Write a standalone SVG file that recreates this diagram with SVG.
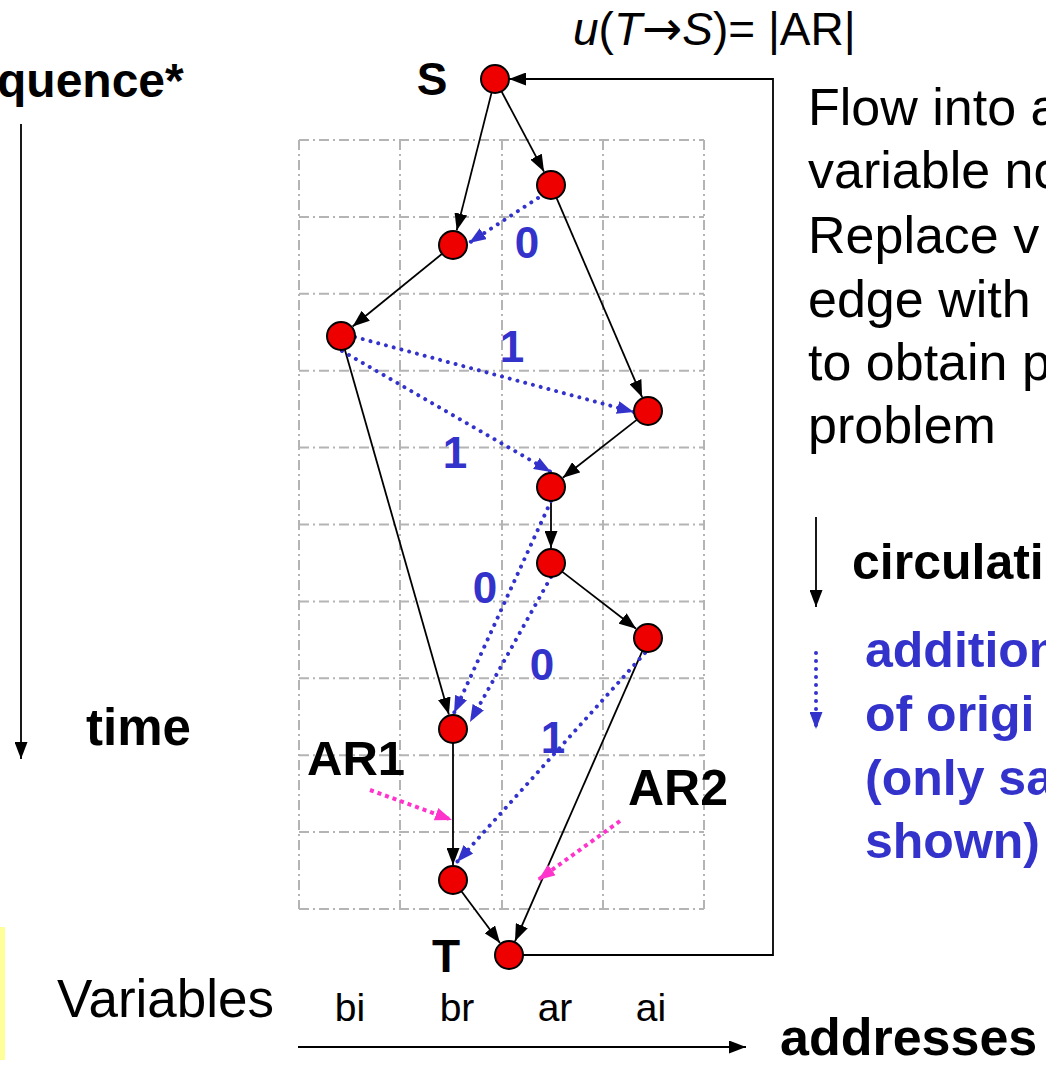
<svg xmlns="http://www.w3.org/2000/svg" width="1046" height="1066" viewBox="0 0 1046 1066">
<defs>
<style>
text{font-family:"Liberation Sans",Arial,sans-serif}
.b{font-weight:bold}
.blue{fill:#3333CC}
.grid line{stroke:#B4B4B4;stroke-width:2;stroke-dasharray:10 4 2 4}
.edge{stroke:#000;stroke-width:1.8;fill:none;marker-end:url(#ah)}
.dot{stroke:#3333CC;stroke-width:4;fill:none;stroke-linecap:round;stroke-dasharray:0.01 8;marker-end:url(#bh)}
.pink{stroke:#FF33CC;stroke-width:4;fill:none;stroke-dasharray:4 4;marker-end:url(#ph)}
.node{fill:#EE0000;stroke:#000;stroke-width:2}
</style>
<marker id="ah" viewBox="0 0 17 13" refX="17" refY="6.5" markerWidth="17" markerHeight="13" markerUnits="userSpaceOnUse" orient="auto"><path d="M0,0 L17,6.5 L0,13 z" fill="#000"/></marker>
<marker id="bh" viewBox="0 0 17 13" refX="17" refY="6.5" markerWidth="17" markerHeight="13" markerUnits="userSpaceOnUse" orient="auto"><path d="M0,0 L17,6.5 L0,13 z" fill="#3333CC"/></marker>
<marker id="ph" viewBox="0 0 17 13" refX="17" refY="6.5" markerWidth="17" markerHeight="13" markerUnits="userSpaceOnUse" orient="auto"><path d="M0,0 L17,6.5 L0,13 z" fill="#FF33CC"/></marker>
</defs>
<rect width="1046" height="1066" fill="#fff"/>
<rect x="0" y="927" width="5" height="133" fill="#FFFF99"/>
<g class="grid">
<line x1="299" y1="140" x2="299" y2="909"/>
<line x1="400" y1="140" x2="400" y2="909"/>
<line x1="502" y1="140" x2="502" y2="909"/>
<line x1="603" y1="140" x2="603" y2="909"/>
<line x1="704" y1="140" x2="704" y2="909"/>
<line x1="299" y1="140" x2="704" y2="140"/>
<line x1="299" y1="216.9" x2="704" y2="216.9"/>
<line x1="299" y1="293.8" x2="704" y2="293.8"/>
<line x1="299" y1="370.7" x2="704" y2="370.7"/>
<line x1="299" y1="447.6" x2="704" y2="447.6"/>
<line x1="299" y1="524.5" x2="704" y2="524.5"/>
<line x1="299" y1="601.4" x2="704" y2="601.4"/>
<line x1="299" y1="678.3" x2="704" y2="678.3"/>
<line x1="299" y1="755.2" x2="704" y2="755.2"/>
<line x1="299" y1="832.1" x2="704" y2="832.1"/>
<line x1="299" y1="909" x2="704" y2="909"/>
</g>
<g id="axes">
<line x1="21" y1="124" x2="21" y2="759" class="edge"/>
<line x1="298" y1="1047" x2="746" y2="1047" class="edge"/>
<line x1="816" y1="517" x2="816" y2="607" class="edge"/>
<line x1="816" y1="653" x2="816" y2="729" class="dot" stroke-width="3.5"/>
</g>
<g id="connectors">
<path class="edge" d="M501.5,91.4 L544,171.7"/>
<path class="edge" d="M491.6,92.6 L456.7,230.4"/>
<path class="edge" d="M442.1,253.8 L352.6,326.5"/>
<path class="edge" d="M556.5,197.9 L642.1,397.2"/>
<path class="edge" d="M637,419.6 L562.8,477.7"/>
<path class="edge" d="M551,501 L551,548"/>
<path class="edge" d="M562.1,571.6 L636.1,628.8"/>
<path class="edge" d="M344.8,349.5 L448.9,714.6"/>
<path class="edge" d="M453,743 L453,865"/>
<path class="edge" d="M461.4,891.2 L500,943"/>
<path class="edge" d="M642.4,650.8 L515,941.3"/>
<path class="edge" d="M523,955 H773 V79 H509"/>
<path class="dot" d="M538,198 L469,243"/>
<path class="dot" d="M355,337 L634,412"/>
<path class="dot" d="M342,351 L551,472"/>
<path class="dot" d="M551,501 L454,713"/>
<path class="dot" d="M551,577 L470,722"/>
<path class="dot" d="M645,653 L457,862"/>
<path class="pink" d="M370,790 L452,820"/>
<path class="pink" d="M620,821 L538,880"/>
</g>
<g id="node-S"><circle class="node" cx="495" cy="79" r="14"/><text x="432" y="95" class="b" font-size="46" text-anchor="middle">S</text></g>
<g id="node-1"><circle class="node" cx="551" cy="185" r="14"/></g>
<g id="node-2"><circle class="node" cx="453" cy="245" r="14"/></g>
<g id="node-3"><circle class="node" cx="341" cy="336" r="14"/></g>
<g id="node-4"><circle class="node" cx="648" cy="411" r="14"/></g>
<g id="node-5"><circle class="node" cx="551" cy="487" r="14"/></g>
<g id="node-6"><circle class="node" cx="551" cy="563" r="14"/></g>
<g id="node-7"><circle class="node" cx="648" cy="638" r="14"/></g>
<g id="node-8"><circle class="node" cx="453" cy="729" r="14"/></g>
<g id="node-9"><circle class="node" cx="453" cy="880" r="14"/></g>
<g id="node-T"><circle class="node" cx="509" cy="955" r="14"/><text x="446" y="972" class="b" font-size="46" text-anchor="middle">T</text></g>
<g id="edge-labels" class="b blue" font-size="44" text-anchor="middle">
<text x="527" y="258">0</text>
<text x="512" y="362">1</text>
<text x="455" y="468">1</text>
<text x="485" y="603">0</text>
<text x="542" y="680">0</text>
<text x="553" y="753">1</text>
</g>
<g id="labels">
<text x="-3" y="97" class="b" font-size="48">quence*</text>
<text x="86" y="745" class="b" font-size="51">time</text>
<text x="307" y="775" class="b" font-size="49">AR1</text>
<text x="628" y="805" class="b" font-size="50">AR2</text>
<text x="57" y="1017" font-size="53">Variables</text>
<g font-size="39" text-anchor="middle">
<text x="350" y="1021">bi</text>
<text x="457" y="1021">br</text>
<text x="555" y="1021">ar</text>
<text x="651" y="1021">ai</text>
</g>
<text x="780" y="1055" class="b" font-size="52">addresses</text>
<text x="573" y="45" font-size="46"><tspan font-style="italic">u</tspan>(<tspan font-style="italic">T</tspan><tspan font-family="DejaVu Sans,sans-serif" font-size="48">→</tspan><tspan font-style="italic">S</tspan>)= |AR|</text>
<g font-size="52">
<text x="808" y="125">Flow into a</text>
<text x="808" y="188">variable no</text>
<text x="808" y="253">Replace v</text>
<text x="808" y="317">edge with</text>
<text x="808" y="380">to obtain p</text>
<text x="808" y="443">problem</text>
</g>
<text x="852" y="579" class="b" font-size="50">circulati</text>
<g class="b blue" font-size="50">
<text x="865" y="667">addition</text>
<text x="865" y="731">of origi</text>
<text x="865" y="795">(only sa</text>
<text x="865" y="858">shown)</text>
</g>
</g>
</svg>
